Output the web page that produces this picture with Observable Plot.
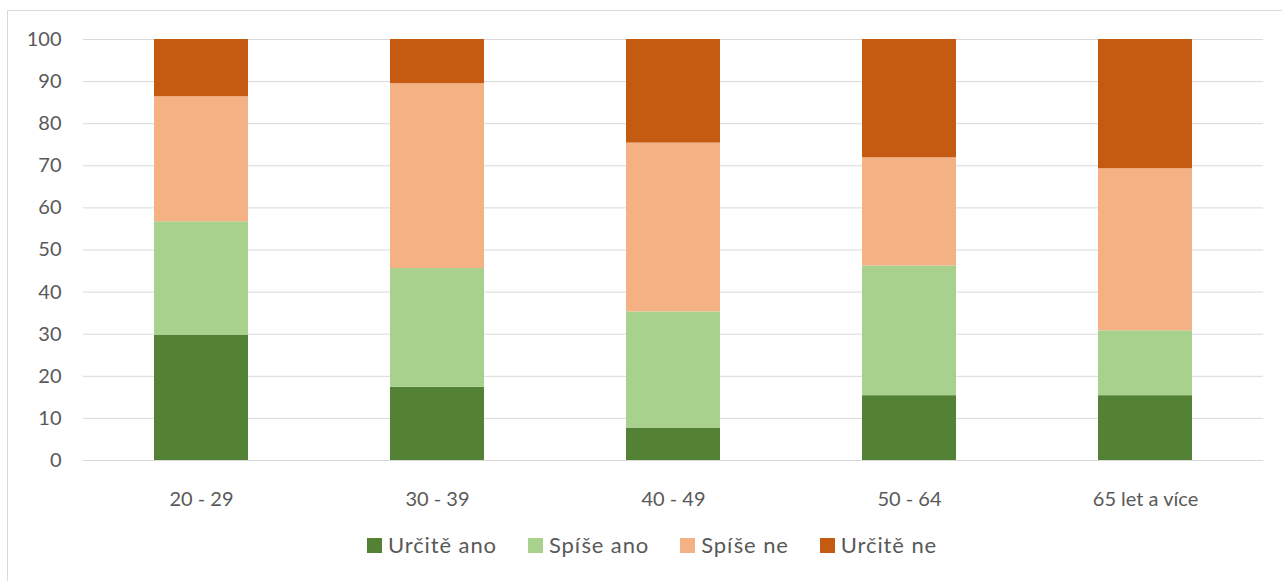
<!DOCTYPE html>
<html>
<head>
<meta charset="utf-8">
<script src="https://cdn.jsdelivr.net/npm/d3@7"></script>
<script src="https://cdn.jsdelivr.net/npm/@observablehq/plot@0.6"></script>
<style>
  html, body { margin: 0; padding: 0; background: #fff; overflow: hidden; }
  body { width: 1282px; height: 581px; position: relative; font-family: Lato, sans-serif; }
  #frame { position: absolute; left: 7px; top: 10px; width: 1300px; height: 620px; border: 1px solid #d9d9d9; box-sizing: border-box; }
  #chart { position: absolute; left: 0; top: 0; }
  #legend { position: absolute; left: 367px; top: 533px; display: flex; justify-content: flex-start; gap: 31px; font-size: 22px; letter-spacing: 0.9px; line-height: 24px; color: #595959; white-space: nowrap; }
  #legend .item { display: flex; align-items: center; gap: 6px; }
  #legend .sw { width: 15px; height: 15px; display: inline-block; }
</style>
</head>
<body>
<div id="frame"></div>
<div id="chart"></div>
<div id="legend"></div>
<script>
const categories = ["20 - 29", "30 - 39", "40 - 49", "50 - 64", "65 let a více"];
const series = ["Určitě ano", "Spíše ano", "Spíše ne", "Určitě ne"];
const colors = ["#548235", "#A9D18E", "#F4B183", "#C55A11"];
const urciteAno = [29.7, 17.4, 7.7, 15.4, 15.4];
const spiseAno  = [27.0, 28.2, 27.6, 30.8, 15.4];
const spiseNe   = [29.7, 43.9, 40.1, 25.7, 38.5];
const urciteNe  = [13.6, 10.5, 24.6, 28.1, 30.7];
const yTicks = [0, 10, 20, 30, 40, 50, 60, 70, 80, 90, 100];

const seriesValues = [urciteAno, spiseAno, spiseNe, urciteNe];
const data = [];
series.forEach((s, si) => {
  categories.forEach((c, ci) => {
    data.push({category: c, series: s, value: seriesValues[si][ci]});
  });
});

const chart = Plot.plot({
  width: 1282,
  height: 520,
  marginLeft: 83,
  marginRight: 19,
  marginTop: 39,
  marginBottom: 60,
  style: {fontFamily: "Lato, sans-serif", fontSize: "20px", color: "#595959", background: "transparent"},
  x: {domain: categories, paddingInner: 0.6, paddingOuter: 0.3, label: null},
  y: {domain: [0, 100], ticks: yTicks, label: null},
  color: {domain: series, range: colors},
  marks: [
    Plot.ruleY(yTicks, {stroke: "#d9d9d9", strokeWidth: 1}),
    Plot.barY(data, {x: "category", y: "value", fill: "series", order: series}),
    Plot.axisY({ticks: yTicks, tickSize: 0, tickPadding: 22, fontSize: 20, fill: "#595959", label: null}),
    Plot.axisX({tickSize: 0, tickPadding: 31, fontSize: 20, fill: "#595959", label: null})
  ]
});
document.getElementById("chart").appendChild(chart);

const legend = document.getElementById("legend");
series.forEach((s, i) => {
  const item = document.createElement("div");
  item.className = "item";
  const sw = document.createElement("span");
  sw.className = "sw";
  sw.style.background = colors[i];
  const t = document.createElement("span");
  t.textContent = s;
  item.appendChild(sw);
  item.appendChild(t);
  legend.appendChild(item);
});
</script>
</body>
</html>
